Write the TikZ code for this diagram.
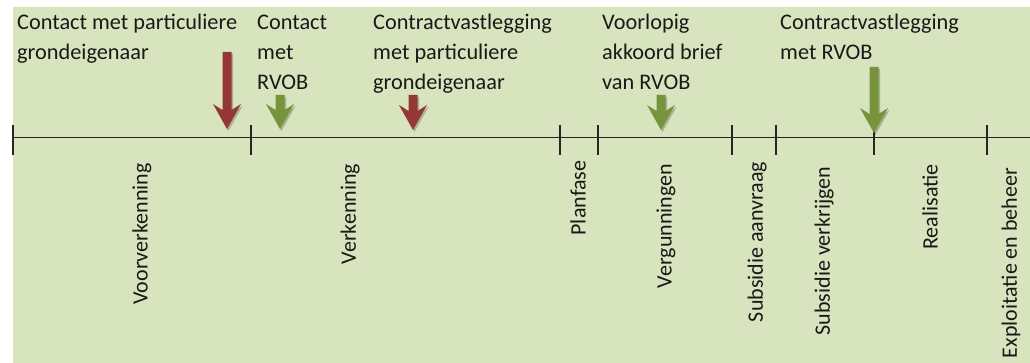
\documentclass[tikz,border=0pt]{standalone}
\usepackage{fontspec}
\setmainfont{Carlito}
\definecolor{bggreen}{HTML}{D7E4BD}
\definecolor{mred}{HTML}{953735}
\definecolor{mgreen}{HTML}{77933C}
\newcommand\milearrow[5]{% name, x, top, tip, color
  \coordinate (#1) at (#2,#4);
  \fill[#5, preaction={fill=black,opacity=.22,transform canvas={shift={(1.5pt,-2pt)}}}]
    (#2-4.5,#3) -- (#2+4.5,#3) -- (#2+4.5,#4-19) -- (#2+14,#4-25) -- (#2,#4)
    -- (#2-14,#4-25) -- (#2-4.5,#4-19) -- cycle;}
\begin{document}
\begin{tikzpicture}[x=1pt,y=-1pt,
  lbl/.style={font=\fontsize{22.3}{30}\selectfont, align=left, anchor=base west, inner sep=0pt, text=black!90},
  phase/.style={font=\fontsize{22}{26}\selectfont, rotate=90, inner sep=0pt, text=black!90},
  tickline/.style={line width=1.1pt, black!85},
]
\useasboundingbox (0,0) rectangle (1030,363);
\fill[bggreen] (13,7) rectangle (1030,363);

% axis
\coordinate (a0) at (13,138);
\coordinate (a1) at (1030,138);
\draw[line width=1pt, black!85] (a0) -- (a1);
\foreach \t in {13,251,560,598,732,776,874,987}
  \draw[tickline] (\t,125) -- (\t,155);

% milestone arrows
\milearrow{r1}{227}{52}{129}{mred}
\milearrow{g1}{280}{95}{129}{mgreen}
\milearrow{r2}{413}{95}{130}{mred}
\milearrow{g2}{661}{95}{130}{mgreen}
\milearrow{g3}{874}{67}{133}{mgreen}

% milestone labels (anchored at the baseline of the last line)
\node[lbl] (m1) at (17,60) {Contact met particuliere\\grondeigenaar};
\node[lbl] (m2) at (257,90) {Contact\\met\\RVOB};
\node[lbl] (m3) at (373,90) {Contractvastlegging\\met particuliere\\grondeigenaar};
\node[lbl] (m4) at (602,90) {Voorlopig\\akkoord brief\\van RVOB};
\node[lbl] (m5) at (780,60) {Contractvastlegging\\met RVOB};

% phase labels
\node[phase] (p1) at (142,234) {Voorverkenning};
\node[phase] (p2) at (350,214) {Verkenning};
\node[phase] (p3) at (578,198) {Planfase};
\node[phase] (p4) at (666,226) {Vergunningen};
\node[phase] (p5) at (757,242) {Subsidie aanvraag};
\node[phase] (p6) at (824,251) {Subsidie verkrijgen};
\node[phase] (p7) at (930,207) {Realisatie};
\node[phase] (p8) at (1011,263) {Exploitatie en beheer};
\end{tikzpicture}
\end{document}
